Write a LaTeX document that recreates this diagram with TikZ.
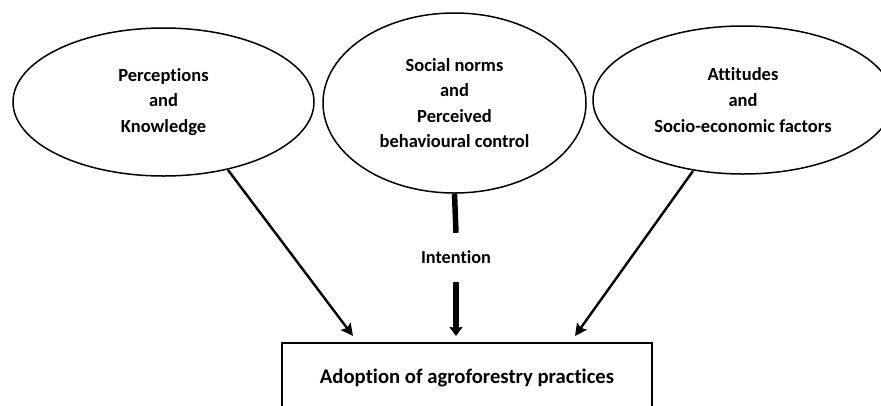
\documentclass[tikz,border=0pt]{standalone}
\usepackage{fontspec}
\setmainfont{Carlito}[Ligatures={NoCommon}]
\usetikzlibrary{shapes.geometric,arrows.meta}
\begin{document}
\begin{tikzpicture}[x=1pt,y=-1pt,
  oval/.style={ellipse,draw,line width=1.5pt,inner sep=0pt,align=center,
    font=\fontsize{18.5}{25.6}\selectfont\bfseries},
  thinarr/.style={line width=2.4pt,-{Stealth[length=12pt,width=12pt,inset=2pt]}},
  thickln/.style={line width=5.5pt},
  thickarr/.style={line width=5.5pt,-{Stealth[length=9pt,width=13pt,inset=1pt]}},
  box/.style={draw,line width=1.6pt,minimum width=370pt,minimum height=70pt,
    font=\fontsize{20.7}{24}\selectfont\bfseries}]
\useasboundingbox (0,0) rectangle (881,405);
\fill[white] (0,0) rectangle (881,405);
\node[oval,minimum width=301pt,minimum height=148pt] (L) at (163.5,102) {Perceptions\\and\\Knowledge};
\node[oval,minimum width=263pt,minimum height=180pt] (M) at (454.5,103) {Social norms\\and\\Perceived\\behavioural control};
\node[oval,minimum width=300pt,minimum height=148pt] (R) at (743,100) {Attitudes\\and\\Socio-economic factors};
\node[box] (A) at (467,378) {Adoption of agroforestry practices};
\node[font=\fontsize{18.3}{20}\selectfont\bfseries,minimum height=49pt,inner sep=0pt] (I) at (456,257.5) {Intention};
\coordinate (Ls) at (228,170);
\coordinate (Rs) at (693,171);
\coordinate (Lt) at (353,336);
\coordinate (Rt) at (575,336);
\coordinate (Mt) at (456,336);
\draw[thinarr] (Ls) -- (Lt);
\draw[thinarr] (Rs) -- (Rt);
\draw[thickln] (M.south) -- (I.north);
\draw[thickarr] (I.south) -- (Mt);
\end{tikzpicture}
\end{document}
